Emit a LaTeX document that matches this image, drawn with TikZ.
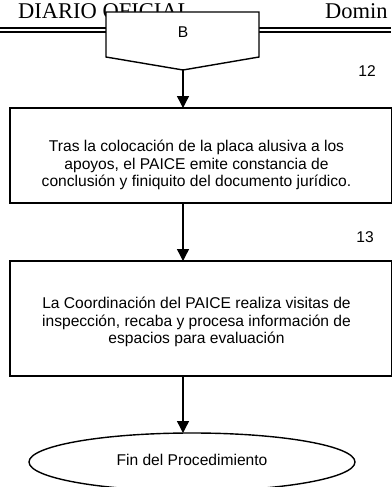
\documentclass[tikz,border=0pt]{standalone}
\usepackage{fontspec}
\setmainfont{Liberation Serif}
\newfontfamily\flowfont{Liberation Sans}
\usetikzlibrary{arrows.meta,shapes.geometric}
\newcommand*{\xArrow}{183}
\newcommand*{\xMax}{391}
\newcommand*{\yMax}{487}

\tikzset{
  stepbox/.style={draw, line width=1.4pt, fill=white, inner sep=0pt, outer sep=0pt},
  steptext/.style={font=\flowfont\fontsize{15.6}{17.5}\selectfont, align=center, inner sep=0pt},
  flow/.style={-{Triangle[length=12pt,width=12pt]}, line width=1.4pt},
  header/.style={font=\fontsize{22.5}{24}\selectfont, anchor=base west, inner sep=0pt}
}

\begin{document}
\begin{tikzpicture}[x=1pt,y=-1pt]
    \useasboundingbox (0,0) rectangle (\xMax,\yMax);

    \node [header] (diario) at (18,19) {DIARIO OFICIAL};
    \node [header] (fecha) at (325,19) {Domin};
    \foreach \i in {28,32} {
      \draw [line width=1.2pt] (0,\i) -- (\xMax,\i);
    }

    \filldraw [fill=white, line width=1.4pt] (106,12) -- (259,12) -- (259,57) -- (\xArrow,70) -- (106,57) -- cycle;
    \coordinate (conector) at (\xArrow,70);
    \node [steptext] (letra) at (\xArrow,32) {B};

    \node [stepbox, minimum width=382pt, minimum height=95pt] (paso12) at (201,155.5) {};
    \node [steptext] (texto12) at (196.5,165) {Tras la colocación de la placa alusiva a los\\apoyos, el PAICE emite constancia de\\conclusión y finiquito del documento jurídico.};
    \node [steptext] (num12) at (367,71) {12};

    \node [stepbox, minimum width=382pt, minimum height=115pt] (paso13) at (201,318.5) {};
    \node [steptext] (texto13) at (196.5,322) {La Coordinación del PAICE realiza visitas de\\inspección, recaba y procesa información de\\espacios para evaluación};
    \node [steptext] (num13) at (365,237) {13};

    \node [stepbox, ellipse, minimum width=326pt, minimum height=58pt] (fin) at (192,462) {};
    \node [steptext] (textofin) at (192,460) {Fin del Procedimiento};

    \draw [flow] (conector) -- (paso12.north -| conector);
    \draw [flow] (paso12.south -| conector) -- (paso13.north -| conector);
    \draw [flow] (paso13.south -| conector) -- (fin.north -| conector);
  \end{tikzpicture}
\end{document}
